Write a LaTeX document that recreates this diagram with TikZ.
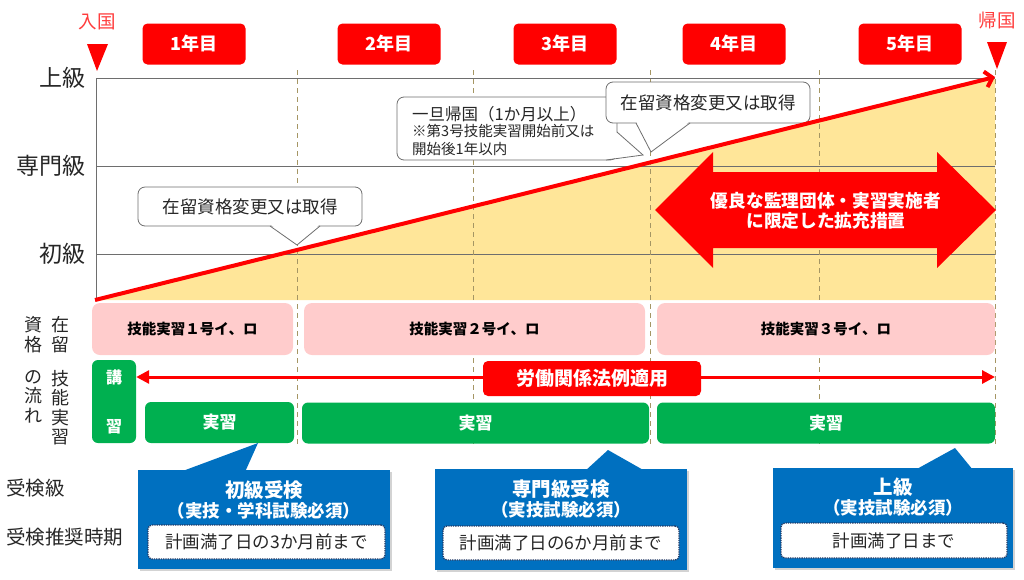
\documentclass[tikz,border=0pt]{standalone}
\usepackage{fontspec}
\setmainfont{Noto Sans CJK JP}
\usetikzlibrary{arrows.meta,shadows}
\definecolor{kred}{RGB}{255,0,0}
\definecolor{kpale}{RGB}{255,60,60}
\definecolor{kyellow}{RGB}{255,230,153}
\definecolor{kpink}{RGB}{255,204,204}
\definecolor{kgreen}{RGB}{0,176,80}
\definecolor{kblue}{RGB}{0,112,192}
\definecolor{knavy}{RGB}{31,56,100}
\definecolor{kolive}{RGB}{165,150,100}
\definecolor{kgray}{RGB}{110,110,110}
\newcommand{\fsz}[2]{\fontsize{#1}{#2}\selectfont}

\begin{document}
\begin{tikzpicture}[x=1pt,y=-1pt,
  lvl/.style={inner sep=0pt,text=black!85,font=\fsz{23}{26}},
  side/.style={inner sep=0pt,text=black!85,font=\fsz{19.5}{23}},
  yearbox/.style={fill=kred,rounded corners=5pt,minimum width=103pt,minimum height=41pt,text=white,font=\fsz{18}{22}\bfseries},
  redtext/.style={inner sep=0pt,text=kpale,font=\fsz{18.5}{22}},
  note/.style={draw=kgray,line width=0.8pt,fill=white,rounded corners=7pt,inner sep=0pt,text=black!85,font=\fsz{17.5}{20}},
  pinkbox/.style={fill=kpink,rounded corners=8pt,inner sep=0pt,minimum height=52pt,font=\fsz{14.5}{18}\bfseries},
  greenbox/.style={fill=kgreen,rounded corners=6pt,inner sep=0pt,minimum height=41pt,text=white,font=\fsz{17}{20}\bfseries},
  lawbox/.style={fill=kred,rounded corners=5pt,minimum width=218pt,minimum height=35pt,inner sep=0pt,text=white,font=\fsz{19}{22}\bfseries},
  bluebox/.style={fill=kblue,inner sep=0pt,drop shadow={shadow xshift=2pt,shadow yshift=-2pt,opacity=.35}},
  bluetitle/.style={inner sep=0pt,text=white,font=\fsz{19.5}{22}\bfseries},
  bluesub/.style={inner sep=0pt,text=white,font=\fsz{17.5}{20}\bfseries},
  whenbox/.style={fill=white,draw=knavy,densely dotted,line width=1.3pt,rounded corners=4pt,minimum height=34pt,inner sep=0pt,text=black!85,font=\fsz{17.5}{20}}]
  \useasboundingbox (0,0) rectangle (1024,579);

  % chart
  \fill[kyellow] (96,300) -- (995,78) -- (995,300) -- cycle;
  \foreach \y in {78,166,254}
    \draw[kgray,line width=0.8pt] (96,\y) -- (995,\y);
  \draw[kgray,line width=0.8pt] (96,78) -- (96,300);
  \foreach \x in {297,473,650,819,995}
    \draw[kolive,line width=1pt,dash pattern=on 5pt off 4pt] (\x,70) -- (\x,447);

  \node[lvl,anchor=east] (jokyu) at (86,78) {上級};
  \node[lvl,anchor=east] (senmon) at (86,166) {専門級};
  \node[lvl,anchor=east] (shokyu) at (86,254) {初級};

  \foreach \n/\x in {1/194,2/389,3/565,4/734,5/910}
    \node[yearbox] (year\n) at (\x,44) {{\n}年目};

  \node[redtext] (nyukoku) at (97,22) {入国};
  \fill[kred] (87,44) -- (108,44) -- (97,71) -- cycle;
  \node[redtext] (kikoku) at (997,20) {帰国};
  \fill[kred] (987,42) -- (1007,42) -- (997,69) -- cycle;

  % callouts
  \node[note,minimum width=224pt,minimum height=39pt] (note1) at (250,206.5) {在留資格変更又は取得};
  \coordinate (tip1) at (297,245);
  \fill[white] (270,224) -- (tip1) -- (320,224) -- cycle;
  \draw[kgray,line width=0.8pt] (270,226) -- (tip1) -- (320,226);

  \node[note,minimum width=220pt,minimum height=63pt] (note2) at (507,128.5) {};
  \node[inner sep=0pt,anchor=west,align=left,text=black!85,font=\fsz{14.5}{18}] (note2txt) at (412,131)
    {\fsz{16.5}{19}一旦帰国（1か月以上）\\[-2pt]\fsz{14.5}{18}※第3号技能実習開始前又は\\開始後1年以内};
  \coordinate (tip2) at (643,155);
  \fill[white] (616,132) -- (tip2) -- (606,159.5) -- (598,140) -- cycle;
  \draw[kgray,line width=0.8pt] (617,132) -- (tip2) -- (606,160);

  \node[note,minimum width=204pt,minimum height=41pt] (note3) at (708,102.5) {在留資格変更又は取得};
  \coordinate (tip3) at (651,152);
  \fill[white] (636,121) -- (tip3) -- (690,121) -- cycle;
  \draw[kgray,line width=0.8pt] (636,123) -- (tip3) -- (690,123);

  \coordinate (start) at (95,300);
  \coordinate (goal) at (995,77);
  \draw[kred,line width=4pt,-{Straight Barb[length=7pt,width=16pt]}] (start) -- (goal);

  \fill[kred] (655,210) -- (713,152) -- (713,172) -- (937,172) -- (937,152) -- (996,210)
    -- (937,268) -- (937,248) -- (713,248) -- (713,268) -- cycle;
  \node[inner sep=0pt,align=center,text=white,font=\fsz{17.7}{20}\bfseries] (kakuju) at (826,211)
    {優良な監理団体・実習実施者\\に限定した拡充措置};

  % rows
  \node[pinkbox,minimum width=201pt] (go1) at (192.5,329) {技能実習１号イ、ロ};
  \node[pinkbox,minimum width=341pt] (go2) at (474.5,329) {技能実習２号イ、ロ};
  \node[pinkbox,minimum width=338pt] (go3) at (826,329) {技能実習３号イ、ロ};

  \node[greenbox,minimum width=44pt,minimum height=83pt,align=center,font=\fsz{16}{19}\bfseries] (kosyu) at (114,401.5) {講\\[30pt]習};
  \node[greenbox,minimum width=149pt] (jisyu1) at (219.5,422.5) {実習};
  \node[greenbox,minimum width=347pt] (jisyu2) at (475.5,423) {実習};
  \node[greenbox,minimum width=338pt] (jisyu3) at (826,423) {実習};

  \coordinate (lawend) at (995,377);
  \draw[kred,line width=3pt,{Triangle[length=13pt,width=13pt]}-{Triangle[length=13pt,width=13pt]}] (kosyu.east |- lawend) -- (lawend);
  \node[lawbox] (law) at (592,378.5) {労働関係法例適用};

  \node[inner sep=0pt,align=center,text=black!85,font=\fsz{18}{20}] (zairyu) at (60,335) {在\\留};
  \node[inner sep=0pt,align=center,text=black!85,font=\fsz{18}{20}] (shikaku) at (33,335) {資\\格};
  \node[inner sep=0pt,align=center,text=black!85,font=\fsz{18}{19.5},anchor=north] (ginou) at (60,370) {技\\能\\実\\習};
  \node[inner sep=0pt,align=center,text=black!85,font=\fsz{18}{19.5},anchor=north] (nagare) at (33,370) {の\\流\\れ};

  % exams
  \node[side,anchor=west] (kyu) at (6,488) {受検級};
  \node[side,anchor=west] (jiki) at (6,537) {受検推奨時期};

  \node[bluebox,minimum width=252pt,minimum height=99pt] (exam1) at (264,519.5) {};
  \coordinate (ptr1) at (258,443);
  \fill[kblue] (180,472) -- (ptr1) -- (245,472) -- cycle;
  \node[bluetitle] (exam1t) at (264,490) {初級受検};
  \node[bluesub] (exam1s) at (264,511) {（実技・学科試験必須）};
  \node[whenbox,minimum width=237pt] (exam1d) at (266.5,542) {計画満了日の3か月前まで};

  \node[bluebox,minimum width=252pt,minimum height=101pt] (exam2) at (561,519.5) {};
  \coordinate (ptr2) at (608,450);
  \fill[kblue] (585,471) -- (ptr2) -- (645,471) -- cycle;
  \node[bluetitle] (exam2t) at (561,489) {専門級受検};
  \node[bluesub] (exam2s) at (561,510) {（実技試験必須）};
  \node[whenbox,minimum width=236pt] (exam2d) at (561,543) {計画満了日の6か月前まで};

  \node[bluebox,minimum width=240pt,minimum height=100pt] (exam3) at (893,518) {};
  \coordinate (ptr3) at (955,448);
  \fill[kblue] (915,470) -- (ptr3) -- (973,470) -- cycle;
  \node[bluetitle] (exam3t) at (893,487) {上級};
  \node[bluesub] (exam3s) at (893,508) {（実技試験必須）};
  \node[whenbox,minimum width=226pt,minimum height=35pt] (exam3d) at (894,540.5) {計画満了日まで};
\end{tikzpicture}
\end{document}
